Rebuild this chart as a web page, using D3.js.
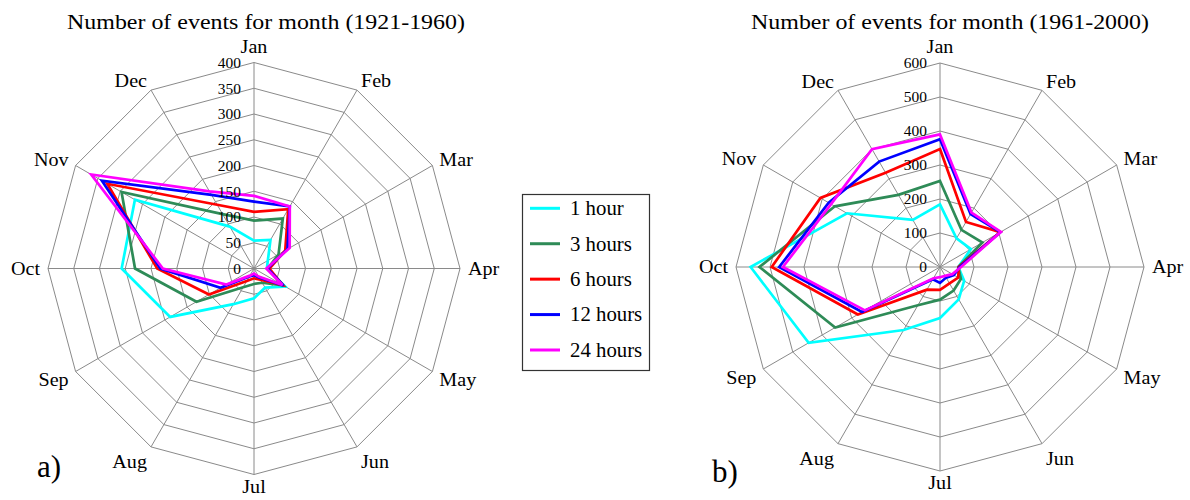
<!DOCTYPE html>
<html>
<head>
<meta charset="utf-8">
<script src="https://cdn.jsdelivr.net/npm/d3@7"></script>
<style>
body{margin:0;background:#fff;}
text{font-family:"Liberation Serif","Times New Roman",serif;fill:#000;}
</style>
</head>
<body>
<svg id="chart" width="1190" height="500"></svg>
<script>
var months=["Jan","Feb","Mar","Apr","May","Jun","Jul","Aug","Sep","Oct","Nov","Dec"];
var seriesNames=["1 hour","3 hours","6 hours","12 hours","24 hours"];
var seriesColors=["#00ffff","#2e8b57","#ff0000","#0000ff","#ff00ff"];
var ticksA=[0,50,100,150,200,250,300,350,400];
var ticksB=[0,100,200,300,400,500,600];

// 1921-1960
var a1h=[54,64,31,25,70,43,58,80,188,257,267,94];
var a3h=[93,112,55,27,66,32,30,42,129,231,297,122];
var a6h=[110,133,70,30,64,25,19,28,101,188,329,143];
var a12h=[130,139,75,26,66,20,13,18,75,182,341,165];
var a24h=[141,139,80,24,64,18,10,16,62,177,365,173];

// 1961-2000
var b1h=[184,97,105,54,82,110,150,214,446,557,316,160];
var b3h=[253,126,144,54,71,80,96,130,356,531,357,245];
var b6h=[347,153,205,55,62,56,67,77,279,495,406,320];
var b12h=[376,180,205,58,47,36,47,42,265,473,378,358];
var b24h=[390,185,207,62,42,30,30,38,255,462,370,400];

var svg=d3.select("#chart");

function putText(g,str,x,y,size,sx,anchor){
    return g.append("text")
        .attr("transform","translate("+x+","+y+") scale("+sx+",1)")
        .attr("text-anchor",anchor||"middle")
        .attr("dominant-baseline","central")
        .style("font-size",size+"px")
        .text(str);
}

function drawRadar(o){
    var g=svg.append("g");
    var r=d3.scaleLinear().domain([0,o.max]).range([0,o.radius]);
    var ang=d3.scaleLinear().domain([0,months.length]).range([0,2*Math.PI]);

    var ring=d3.lineRadial()
        .angle(function(d,i){return ang(i);})
        .radius(function(d){return d;})
        .curve(d3.curveLinearClosed);

    var grid=g.append("g").attr("transform","translate("+o.cx+","+o.cy+")");
    o.ticks.slice(1).forEach(function(t){
        grid.append("path")
            .attr("d",ring(months.map(function(){return r(t);})))
            .attr("fill","none").attr("stroke","#8a8a8a").attr("stroke-width",1);
    });
    months.forEach(function(m,i){
        var a=ang(i);
        grid.append("line")
            .attr("x1",0).attr("y1",0)
            .attr("x2",r(o.max)*Math.sin(a)).attr("y2",-r(o.max)*Math.cos(a))
            .attr("stroke","#8a8a8a").attr("stroke-width",1);
    });

    var line=d3.lineRadial()
        .angle(function(d,i){return ang(i);})
        .radius(function(d){return r(d);})
        .curve(d3.curveLinearClosed);

    o.series.forEach(function(s,k){
        grid.append("path")
            .attr("d",line(s))
            .attr("fill","none")
            .attr("stroke",seriesColors[k])
            .attr("stroke-width",2.7)
            .attr("stroke-linejoin","miter");
    });

    o.ticks.forEach(function(t){
        putText(g,t,o.cx-13,o.cy-r(t),15,1.03,"end");
    });

    months.forEach(function(m,i){
        var a=ang(i), s=Math.sin(a), c=Math.cos(a);
        var rr=r(o.max)+8;
        var x=o.cx+rr*s, y=o.cy-rr*c;
        var anchor=s>0.1?"start":(s<-0.1?"end":"middle");
        var dy=c>0.9?-8:(c>0.3?-2:(c<-0.9?4:(c<-0.3?-c*9:0)));
        putText(g,m,x,y+dy,19,1.06,anchor);
    });

    putText(g,o.title,o.titleX,22,21,1.14,"middle");
    g.append("text")
        .attr("x",o.tagX).attr("y",o.tagY)
        .style("font-size","31px")
        .text(o.tag);
}

drawRadar({cx:254,cy:268.5,radius:206,max:400,ticks:ticksA,
    series:[a1h,a3h,a6h,a12h,a24h],
    title:"Number of events for month (1921-1960)",titleX:266,
    tag:"a)",tagX:37,tagY:477});

drawRadar({cx:940,cy:267,radius:204,max:600,ticks:ticksB,
    series:[b1h,b3h,b6h,b12h,b24h],
    title:"Number of events for month (1961-2000)",titleX:950,
    tag:"b)",tagX:712,tagY:482});

// legend
var leg=svg.append("g");
leg.append("rect")
    .attr("x",522.5).attr("y",194.5).attr("width",127).attr("height",176)
    .attr("fill","#fff").attr("stroke","#333").attr("stroke-width",1.2);
var ly=d3.scaleLinear().domain([0,seriesNames.length-1]).range([208.3,350]);
seriesNames.forEach(function(n,k){
    leg.append("line")
        .attr("x1",530).attr("x2",560)
        .attr("y1",ly(k)).attr("y2",ly(k))
        .attr("stroke",seriesColors[k]).attr("stroke-width",3);
    putText(leg,n,570,ly(k),20,1.04,"start");
});
</script>
</body>
</html>
